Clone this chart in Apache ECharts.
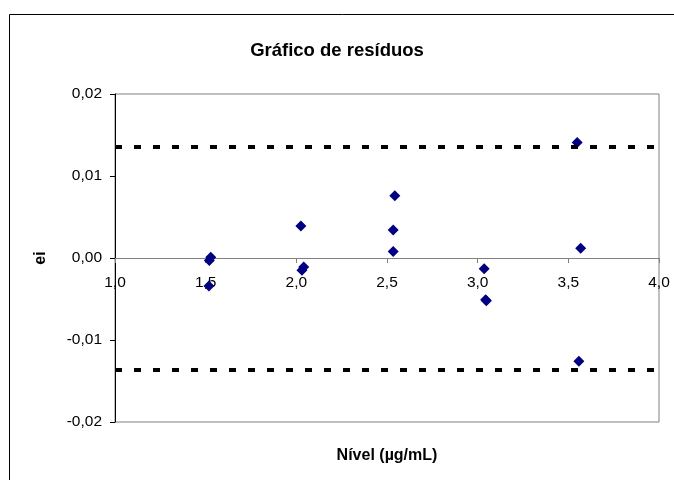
<!DOCTYPE html>
<html>
<head>
<meta charset="utf-8">
<script src="https://cdn.jsdelivr.net/npm/echarts@6/dist/echarts.min.js"></script>
<style>html,body{margin:0;padding:0;background:#fff;}#c{width:674px;height:480px;}</style>
</head>
<body>
<div id="c"></div>
<script>
const titleText = 'Gráfico de resíduos';
const xName = 'Nível (µg/mL)';
const yName = 'ei';
const xTickLabels = ['1,0', '1,5', '2,0', '2,5', '3,0', '3,5', '4,0'];
const yTickLabels = ['-0,02', '-0,01', '0,00', '0,01', '0,02'];
const levels = [1.528, 1.520, 1.518, 2.025, 2.041, 2.031, 2.543, 2.534, 2.534, 3.036, 3.044, 3.048, 3.549, 3.568, 3.558];
const residuals = [0.0001, -0.0003, -0.0034, 0.0039, -0.0011, -0.0015, 0.0076, 0.0034, 0.0008, -0.0013, -0.0051, -0.0052, 0.0141, 0.0012, -0.0126];
const limits = [0.0136, -0.0136];

const chart = echarts.init(document.getElementById('c'), null, {renderer: 'canvas'});
const font = 'Liberation Sans, Arial, sans-serif';
const gridTop = 94, gridBottom = 58, H = 480;
const plotH = H - gridTop - gridBottom;
// x axis crosses y at 0: shift it up from the bottom by the share of the range below zero
const yMin = -0.02, yMax = 0.02;
const xOffset = -plotH * (0 - yMin) / (yMax - yMin);
chart.setOption({
  animation: false,
  backgroundColor: '#fff',
  title: {
    text: titleText, left: 'center', top: 36,
    textStyle: {fontFamily: font, fontWeight: 'bold', fontSize: 18.5, color: '#000'}
  },
  graphic: [{
    type: 'rect', shape: {x: 9.5, y: 14.5, width: 700, height: 500},
    style: {fill: 'none', stroke: '#000', lineWidth: 1}, silent: true, z: -1
  }],
  grid: {left: 115, right: 15, top: gridTop, bottom: gridBottom, show: true, borderColor: '#808080', borderWidth: 1,
    containLabel: false, outerBoundsMode: 'none'},
  xAxis: {
    type: 'value', min: 1, max: 4, interval: 0.5, position: 'bottom', offset: xOffset,
    name: xName, nameLocation: 'middle', nameGap: 190,
    nameTextStyle: {fontFamily: font, fontWeight: 'bold', fontSize: 16, color: '#000'},
    axisLine: {show: true, onZero: false, lineStyle: {color: '#808080', width: 1}},
    axisTick: {show: true, inside: false, length: 5, lineStyle: {color: '#808080'}},
    axisLabel: {margin: 17, fontFamily: font, fontSize: 15.5, color: '#000',
      formatter: (v, i) => xTickLabels[i]},
    splitLine: {show: false}
  },
  yAxis: {
    type: 'value', min: yMin, max: yMax, interval: 0.01,
    name: yName, nameLocation: 'middle', nameGap: 66, nameRotate: 90,
    nameTextStyle: {fontFamily: font, fontWeight: 'bold', fontSize: 16, color: '#000'},
    axisLine: {show: true, onZero: false, lineStyle: {color: '#000', width: 1}},
    axisTick: {show: true, inside: false, length: 5, lineStyle: {color: '#000'}},
    axisLabel: {margin: 13, fontFamily: font, fontSize: 15.5, color: '#000',
      formatter: (v, i) => yTickLabels[i]},
    splitLine: {show: false}
  },
  series: [{
    type: 'scatter',
    symbol: 'diamond', symbolSize: 11,
    itemStyle: {color: '#000080', opacity: 1},
    data: levels.map((x, i) => [x, residuals[i]]),
    z: 3,
    markLine: {
      silent: true, symbol: 'none', animation: false, precision: 6,
      label: {show: false},
      lineStyle: {color: '#000', width: 4, type: [7, 12], opacity: 1},
      data: limits.map(v => ({yAxis: v}))
    }
  }]
});
</script>
</body>
</html>
